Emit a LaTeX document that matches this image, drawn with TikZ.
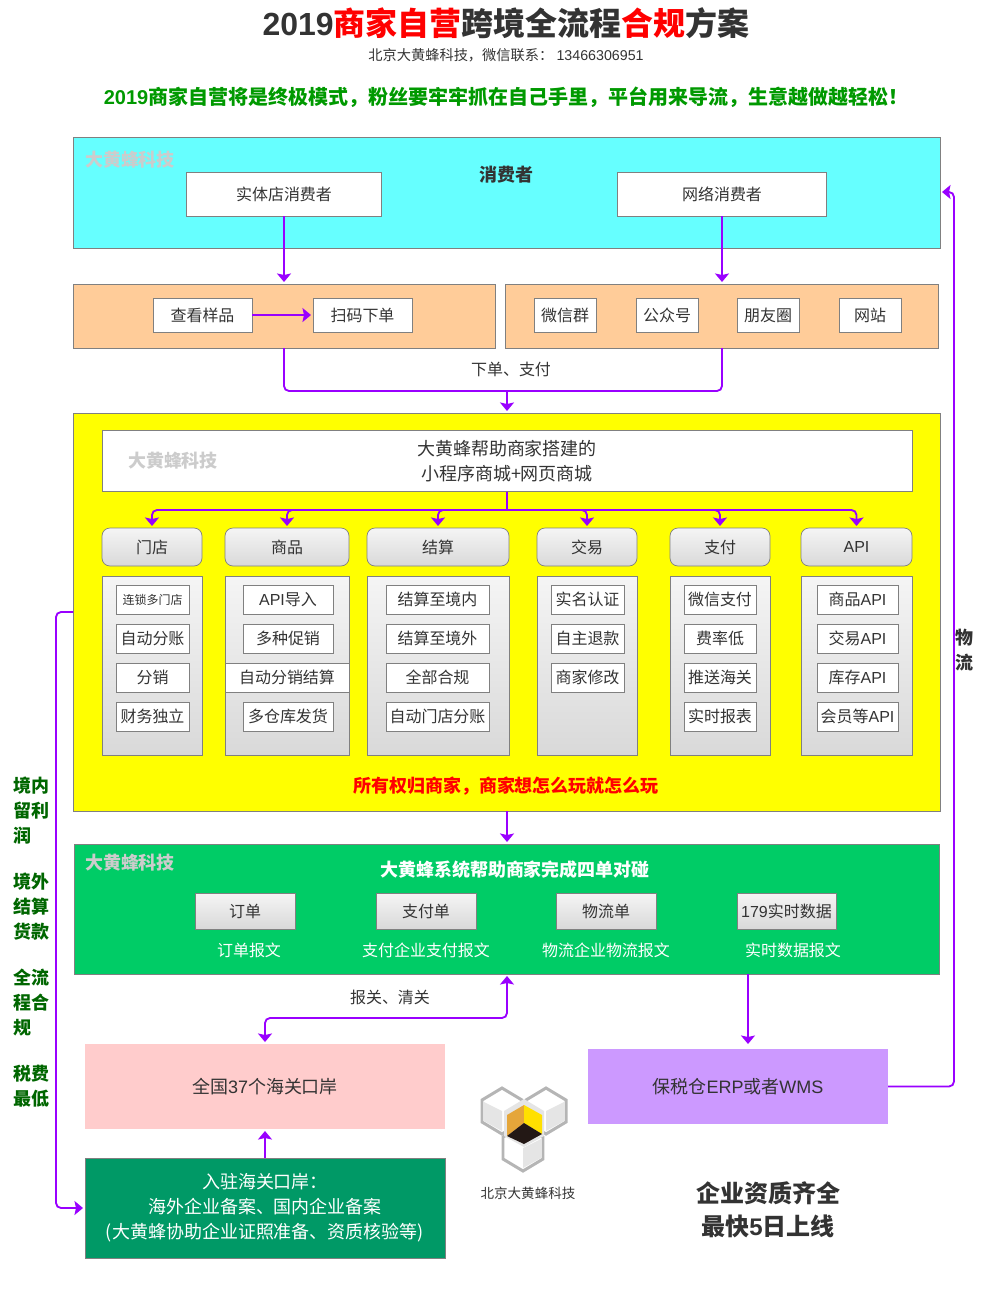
\documentclass[tikz,border=0pt]{standalone}
\usepackage{fontspec}
\usepackage{xcolor}
\usepackage{tikz}
\usetikzlibrary{arrows.meta, positioning, calc}
\setmainfont{Noto Sans CJK SC}
\newfontfamily\lat{Liberation Sans}
\definecolor{flowpurple}{HTML}{9900FF}
\definecolor{edgegray}{HTML}{808080}
\definecolor{inkgray}{HTML}{333333}
\definecolor{markgray}{HTML}{CCCCCC}
\definecolor{consumercyan}{HTML}{66FFFF}
\definecolor{channelpeach}{HTML}{FFCC99}
\definecolor{platformyellow}{HTML}{FFFF00}
\definecolor{systemgreen}{HTML}{00CC66}
\definecolor{portpink}{HTML}{FFCCCC}
\definecolor{wmspurple}{HTML}{CC99FF}
\definecolor{entrygreen}{HTML}{009966}
\definecolor{slogangreen}{HTML}{009900}
\definecolor{sidegreen}{HTML}{006600}
\definecolor{logogray}{HTML}{B5B5B5}
\definecolor{logoface}{HTML}{E5E5E5}
\definecolor{logoorange}{HTML}{E5A63A}
\definecolor{logoyellow}{HTML}{FFE000}
\definecolor{logoblack}{HTML}{231815}
\newcommand{\fsa}{\fontsize{6.83}{9}\selectfont}
\newcommand{\fsb}{\fontsize{8.1}{10}\selectfont}
\newcommand{\fsc}{\fontsize{9.1}{12}\selectfont}
\newcommand{\fsd}{\fontsize{10.24}{14.22}\selectfont}
\newcommand{\fse}{\fontsize{11.38}{14.5}\selectfont}
\newcommand{\fsf}{\fontsize{13.66}{18.8}\selectfont}
\newcommand{\fsg}{\fontsize{18.2}{22}\selectfont}
\tikzset{
  wh/.style 2 args={minimum width=#1*0.02cm, minimum height=#2*0.02cm,
                    inner sep=0pt, outer sep=0pt},
}

\begin{document}
\begin{tikzpicture}[
  x=0.02cm, y=-0.02cm,
  box/.style={draw=edgegray, line width=0.4pt, align=center, text=inkgray, font=\fsc},
  whitebox/.style={box, fill=white},
  tabbox/.style={box, top color=white!96!black, bottom color=white!85!black,
                 rounded corners=0.16cm},
  panel/.style={box, top color=white!96!black, bottom color=white!85!black},
  word/.style={align=center, text=inkgray, font=\fsc, inner sep=0pt},
  brand/.style={word, text=markgray, font=\fsd\bfseries},
  side/.style={align=left, anchor=north west, inner sep=0pt, text=sidegreen,
               font=\fsd\bfseries},
  flow/.style={-{Stealth[length=0.17cm,width=0.28cm,inset=0.03cm]}, draw=flowpurple,
               fill=none, line width=1.05pt, rounded corners=0.1cm, shorten >=0.04cm},
  flowline/.style={draw=flowpurple, line width=1.05pt, rounded corners=0.1cm},
  logohex/.style={draw=logogray, line width=1.7pt, fill=white},
]
  \useasboundingbox (0,0) rectangle (1000,1305);

  % Heading
  \node[word, font=\fsg\bfseries] (title) at (506,23)
       {{\lat 2019}\textcolor{red}{商家自营}跨境全流程\textcolor{red}{合规}方案};
  \node[word, font=\fsb] (contact) at (506,55) {北京大黄蜂科技，微信联系： {\lat 13466306951}};
  \node[word, font=\fse\bfseries, text=slogangreen] (slogan) at (506,97)
       {{\lat 2019}商家自营将是终极模式，粉丝要牢牢抓在自己手里，平台用来导流，生意越做越轻松！};

  % Consumers
  \node[box, fill=consumercyan, wh={867}{111}] (consumer) at (506.5,192.5) {};
  \node[brand] (markcyan) at (130,160) {大黄蜂科技};
  \node[word, font=\fsd\bfseries] (consumertitle) at (506,175) {消费者};
  \node[whitebox, wh={195}{44}] (shop) at (284,194) {实体店消费者};
  \node[whitebox, wh={209}{44}] (online) at (722,194) {网络消费者};

  % Channels
  \node[box, fill=channelpeach, wh={422}{64}] (offline) at (284,316) {};
  \node[box, fill=channelpeach, wh={433}{64}] (social) at (721.5,316) {};
  \node[whitebox, wh={99}{34}] (sample) at (202.5,315) {查看样品};
  \node[whitebox, wh={99}{34}] (scan) at (362.5,315) {扫码下单};
  \node[whitebox, wh={62}{34}] (wxgroup) at (565,315) {微信群};
  \node[whitebox, wh={62}{34}] (wxmp) at (667,315) {公众号};
  \node[whitebox, wh={62}{34}] (moments) at (768,315) {朋友圈};
  \node[whitebox, wh={62}{34}] (site) at (870,315) {网站};
  \node[word, font=\fsc] (paylabel) at (511,369) {下单、支付};

  % Yellow platform
  \node[box, fill=platformyellow, wh={867}{398}] (platform) at (506.5,612) {};
  \node[whitebox, wh={810}{61}, font=\fsd] (mall) at (507,461) {大黄蜂帮助商家搭建的\\小程序商城+网页商城};
  \node[brand] (markmall) at (173,461) {大黄蜂科技};

  \node[tabbox, wh={100}{38}] (tabstore) at (152,547) {门店};
  \node[tabbox, wh={124}{38}] (tabgoods) at (287,547) {商品};
  \node[tabbox, wh={142}{38}] (tabsettle) at (438,547) {结算};
  \node[tabbox, wh={100}{38}] (tabtrade) at (587,547) {交易};
  \node[tabbox, wh={100}{38}] (tabpay) at (720,547) {支付};
  \node[tabbox, wh={111}{38}] (tabapi) at (856.5,547) {{\lat API}};

  \node[panel, wh={100}{179}] (panelstore) at (152,665.5) {};
  \node[panel, wh={124}{179}] (panelgoods) at (287,665.5) {};
  \node[panel, wh={142}{179}] (panelsettle) at (438,665.5) {};
  \node[panel, wh={100}{179}] (paneltrade) at (587,665.5) {};
  \node[panel, wh={100}{179}] (panelpay) at (720,665.5) {};
  \node[panel, wh={111}{179}] (panelapi) at (856.5,665.5) {};

  % Store column
  \node[whitebox, wh={73}{29}, font=\fsa] (store1) at (152.5,599.5) {连锁多门店};
  \node[whitebox, wh={73}{29}] (store2) at (152.5,638.5) {自动分账};
  \node[whitebox, wh={73}{29}] (store3) at (152.5,677.5) {分销};
  \node[whitebox, wh={73}{29}] (store4) at (152.5,716.5) {财务独立};

  % Goods column
  \node[whitebox, wh={90}{29}] (goods1) at (288,599.5) {{\lat API}导入};
  \node[whitebox, wh={90}{29}] (goods2) at (288,638.5) {多种促销};
  \node[whitebox, wh={124}{29}] (goods3) at (287,677.5) {自动分销结算};
  \node[whitebox, wh={90}{29}] (goods4) at (288,716.5) {多仓库发货};

  % Settlement column
  \node[whitebox, wh={103}{29}] (settle1) at (437.5,599.5) {结算至境内};
  \node[whitebox, wh={103}{29}] (settle2) at (437.5,638.5) {结算至境外};
  \node[whitebox, wh={103}{29}] (settle3) at (437.5,677.5) {全部合规};
  \node[whitebox, wh={103}{29}] (settle4) at (437.5,716.5) {自动门店分账};

  % Trade column
  \node[whitebox, wh={73}{29}] (trade1) at (587.5,599.5) {实名认证};
  \node[whitebox, wh={73}{29}] (trade2) at (587.5,638.5) {自主退款};
  \node[whitebox, wh={73}{29}] (trade3) at (587.5,677.5) {商家修改};

  % Payment column
  \node[whitebox, wh={72}{29}] (pay1) at (720,599.5) {微信支付};
  \node[whitebox, wh={72}{29}] (pay2) at (720,638.5) {费率低};
  \node[whitebox, wh={72}{29}] (pay3) at (720,677.5) {推送海关};
  \node[whitebox, wh={72}{29}] (pay4) at (720,716.5) {实时报表};

  % API column
  \node[whitebox, wh={81}{29}] (api1) at (857.5,599.5) {商品{\lat API}};
  \node[whitebox, wh={81}{29}] (api2) at (857.5,638.5) {交易{\lat API}};
  \node[whitebox, wh={81}{29}] (api3) at (857.5,677.5) {库存{\lat API}};
  \node[whitebox, wh={81}{29}] (api4) at (857.5,716.5) {会员等{\lat API}};

  \node[word, font=\fsd\bfseries, text=red] (owner) at (506,786) {所有权归商家，商家想怎么玩就怎么玩};

  % Green system
  \node[box, fill=systemgreen, wh={865}{130}] (system) at (506.5,909) {};
  \node[brand] (marksystem) at (130,863) {大黄蜂科技};
  \node[word, font=\fsd\bfseries, text=white] (systemtitle) at (515,870) {大黄蜂系统帮助商家完成四单对碰};
  \node[panel, wh={100}{36}] (order) at (245,911) {订单};
  \node[panel, wh={100}{36}] (payorder) at (426,911) {支付单};
  \node[panel, wh={100}{36}] (logistics) at (606,911) {物流单};
  \node[panel, wh={99}{36}] (realtime) at (786.5,911) {{\lat 179}实时数据};
  \node[word, text=white] (orderlabel) at (249,950) {订单报文};
  \node[word, text=white] (paylabeltwo) at (426,950) {支付企业支付报文};
  \node[word, text=white] (logilabel) at (606,950) {物流企业物流报文};
  \node[word, text=white] (reallabel) at (793,950) {实时数据报文};

  % Customs and warehouse
  \node[word] (customslabel) at (390,997) {报关、清关};
  \node[fill=portpink, wh={360}{85}, text=inkgray, font=\fsd] (ports) at (265,1086.5)
       {全国{\lat 37}个海关口岸};
  \node[fill=wmspurple, wh={300}{75}, text=inkgray, font=\fsd] (bonded) at (738,1086.5)
       {保税仓{\lat ERP}或者{\lat WMS}};
  \node[box, fill=entrygreen, wh={360}{100}, text=white, font=\fsd] (entry) at (265,1208)
       {入驻海关口岸：\\海外企业备案、国内企业备案\\(大黄蜂协助企业证照准备、资质核验等)};
  \node[word, font=\fsf\bfseries] (ready) at (768,1210) {企业资质齐全\\最快{\lat 5}日上线};
  \node[word, font=\fontsize{7.7}{10}\selectfont] (logoname) at (528,1193) {北京大黄蜂科技};

  % Side labels
  \node[side] (sideone) at (13,777) {境内\\留利\\润};
  \node[side] (sidetwo) at (13,873) {境外\\结算\\货款};
  \node[side] (sidethree) at (13,969) {全流\\程合\\规};
  \node[side] (sidefour) at (13,1065) {税费\\最低};
  \node[side, text=inkgray, anchor=north, align=center] (sidefive) at (964,628.5) {物\\流};

  % Logo
  \draw[logohex] (502,1088) -- (522,1100) -- (522,1122) -- (502,1134) -- (482,1122) -- (482,1100) -- cycle;
  \draw[logohex] (546,1088) -- (566,1100) -- (566,1122) -- (546,1134) -- (526,1122) -- (526,1100) -- cycle;
  \draw[logohex] (523,1125) -- (543,1137) -- (543,1159) -- (523,1171) -- (503,1159) -- (503,1137) -- cycle;
  \fill[logoface] (484,1102) -- (502,1111) -- (502,1131) -- (484,1121) -- cycle;
  \fill[logoface] (564,1102) -- (546,1111) -- (546,1131) -- (564,1121) -- cycle;
  \fill[logoface] (541,1139) -- (523,1148) -- (523,1168) -- (541,1158) -- cycle;
  \fill[logoface] (524,1099) -- (544,1111) -- (544,1136) -- (524,1147) -- (504,1136) -- (504,1111) -- cycle;
  \fill[logoorange] (524,1105) -- (524,1123) -- (507,1136) -- (507,1115) -- cycle;
  \fill[logoyellow] (524,1105) -- (542,1115) -- (542,1134) -- (524,1123) -- cycle;
  \fill[logoblack] (524,1123) -- (542,1134) -- (524,1144) -- (507,1136) -- cycle;

  % Connections
  \coordinate (merge) at (507,391);
  \coordinate (split) at (507,510);
  \coordinate (report) at (507,1018);
  \coordinate (ware) at (748,1000);
  \coordinate (back) at (954,192);
  \coordinate (profit) at (56,612);

  \draw[flow] (shop.south) -- (shop.south |- offline.north);
  \draw[flow] (online.south) -- (online.south |- social.north);
  \draw[flow, line width=1.4pt] (sample.east) -- (scan.west);
  \draw[flowline] (shop.south |- offline.south) |- (merge);
  \draw[flowline] (online.south |- social.south) |- (merge);
  \draw[flow] (merge) -- (merge |- platform.north);
  \draw[flowline] (mall.south) -- (split);
  \draw[flow] (split) -| (tabstore.north);
  \draw[flow] (split) -| (tabgoods.north);
  \draw[flow] (split) -| (tabsettle.north);
  \draw[flow] (split) -| (tabtrade.north);
  \draw[flow] (split) -| (tabpay.north);
  \draw[flow] (split) -| (tabapi.north);
  \draw[flow] (split |- platform.south) -- (split |- system.north);
  \draw[flow, {Stealth[length=0.17cm,width=0.28cm,inset=0.03cm]}-{Stealth[length=0.17cm,width=0.28cm,inset=0.03cm]}, shorten <=0.04cm]
       (report |- system.south) -- (report) -| (ports.north);
  \draw[flow] (entry.north) -- (ports.south);
  \draw[flow, shorten >=0.1cm] (ware |- system.south) -- (ware |- bonded.north);
  \draw[flow] (bonded.east) -| (back) -- (back -| consumer.east);
  \draw[flow] (profit -| platform.west) -- (profit) |- (entry.west);
\end{tikzpicture}
\end{document}
